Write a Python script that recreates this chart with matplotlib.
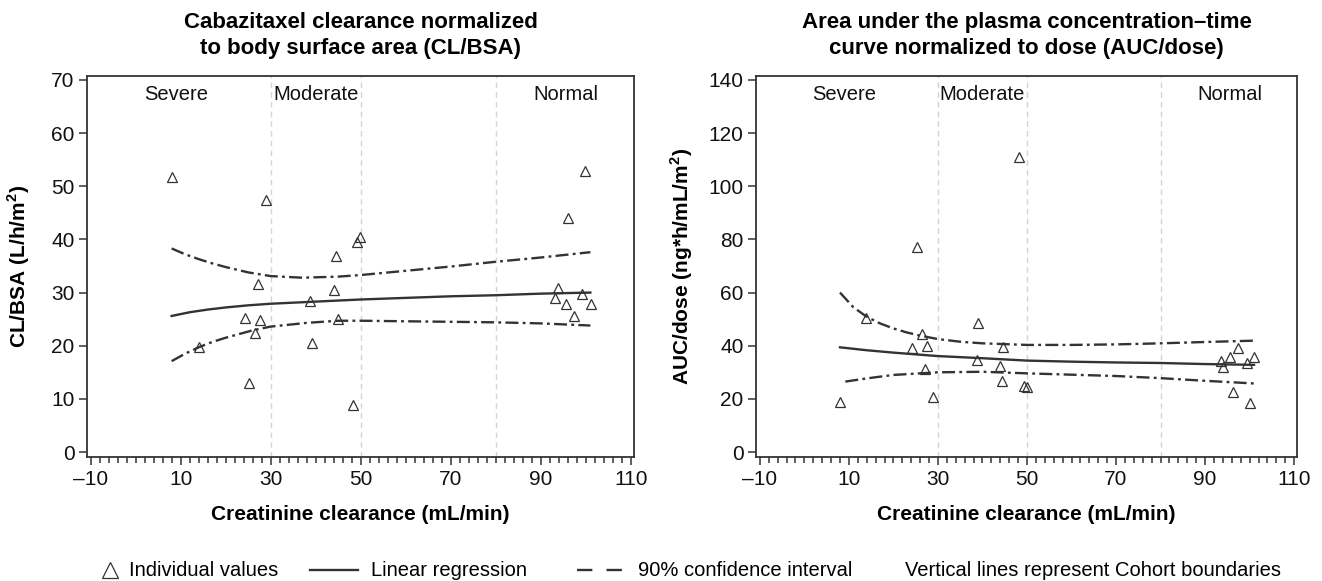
import numpy as np
import matplotlib
matplotlib.use('Agg')
import matplotlib.pyplot as plt
from matplotlib.lines import Line2D
from matplotlib.ticker import FixedLocator

plt.rcParams['font.family'] = ['Liberation Sans', 'DejaVu Sans']

# ---- data ----
# left panel: CL/BSA
cl_x = [8.1, 14.0, 24.4, 25.2, 26.5, 27.2, 27.7, 29.0, 38.8, 39.2, 44.1, 44.4,
        44.9, 48.3, 49.2, 49.8, 93.2, 93.8, 95.6, 96.1, 97.4, 99.2, 99.8, 101.1]
cl_y = [51.8, 19.8, 25.3, 12.9, 22.4, 31.7, 24.8, 47.5, 28.5, 20.6, 30.5, 36.9,
        25.0, 8.8, 39.6, 40.4, 29.0, 30.9, 27.8, 44.0, 25.5, 29.7, 52.9, 27.8]
cl_reg_x = [8, 12, 16, 20, 25, 30, 40, 50, 60, 70, 80, 90, 101]
cl_reg_y = [25.6, 26.3, 26.8, 27.2, 27.6, 27.9, 28.3, 28.7, 29.0, 29.3, 29.5, 29.8, 30.0]
cl_up_x = [8, 11, 14, 17, 20, 25, 30, 37, 45, 50, 60, 70, 80, 90, 101]
cl_up_y = [38.3, 37.2, 36.3, 35.5, 34.8, 33.8, 33.1, 32.8, 33.0, 33.3, 34.1, 34.9, 35.8, 36.6, 37.6]
cl_lo_x = [8, 11, 14, 17, 20, 26, 30, 38, 45, 50, 60, 70, 80, 90, 101]
cl_lo_y = [17.1, 18.5, 19.7, 20.7, 21.5, 22.9, 23.6, 24.3, 24.7, 24.7, 24.6, 24.5, 24.4, 24.2, 23.8]

# right panel: AUC/dose
auc_x = [8.1, 13.9, 24.2, 25.2, 26.4, 27.1, 27.5, 28.9, 38.7, 39.1, 44.0, 44.3,
         44.7, 48.3, 49.3, 50.0, 93.5, 94.1, 95.6, 96.3, 97.3, 99.5, 100.1, 101.0]
auc_y = [18.9, 50.3, 39.1, 77.0, 44.4, 31.4, 40.0, 20.8, 34.7, 48.4, 32.5, 26.8,
         39.5, 110.9, 25.0, 24.6, 34.2, 32.1, 35.6, 22.5, 39.0, 33.4, 18.6, 35.8]
auc_reg_x = [8, 14, 20, 30, 40, 50, 60, 70, 80, 90, 101]
auc_reg_y = [39.4, 38.3, 37.4, 36.1, 35.3, 34.4, 34.0, 33.7, 33.5, 33.1, 32.8]
auc_up_x = [8, 11, 14, 17, 20, 23, 26, 30, 35, 40, 50, 60, 70, 80, 90, 101]
auc_up_y = [60.0, 54.5, 50.9, 48.4, 46.5, 45.0, 43.8, 42.5, 41.5, 40.9, 40.3, 40.3, 40.5, 40.9, 41.4, 41.9]
auc_lo_x = [9.2, 14, 20, 30, 40, 50, 60, 70, 80, 90, 101]
auc_lo_y = [26.5, 27.7, 29.0, 30.0, 30.2, 29.6, 29.1, 28.6, 27.8, 26.8, 25.8]

cohort_bounds = [30, 50, 80]
cohort_names = ['Severe', 'Moderate', 'Normal']
cohort_pos = [9, 40, 95.5]

xticks = [-10, 10, 30, 50, 70, 90, 110]
xtick_labels = ['\u201310', '10', '30', '50', '70', '90', '110']

dark = '#333333'
dashdot = (5.5, 1.8, 1.2, 1.8)

fig = plt.figure(figsize=(13.22, 5.81), dpi=100)
ax1 = fig.add_axes([0.0658, 0.2134, 0.4138, 0.6558])
ax2 = fig.add_axes([0.5719, 0.2134, 0.4092, 0.6558])

panels = [
    (ax1, cl_x, cl_y, cl_reg_x, cl_reg_y, cl_up_x, cl_up_y, cl_lo_x, cl_lo_y,
     (-0.94, 70.75), [0, 10, 20, 30, 40, 50, 60, 70], 69,
     'Cabazitaxel clearance normalized\nto body surface area (CL/BSA)',
     'CL/BSA (L/h/m$^\\mathregular{2}$)', (-10.8, 110.7)),
    (ax2, auc_x, auc_y, auc_reg_x, auc_reg_y, auc_up_x, auc_up_y, auc_lo_x, auc_lo_y,
     (-1.88, 141.5), [0, 20, 40, 60, 80, 100, 120, 140], 138,
     'Area under the plasma concentration\u2013time\ncurve normalized to dose (AUC/dose)',
     'AUC/dose (ng*h/mL/m$^\\mathregular{2}$)', (-10.85, 110.65)),
]

for (ax, px, py, rx, ry, ux, uy, lx, ly, ylim, yticks, ytxt, title, ylab, xlim) in panels:
    for b in cohort_bounds:
        ax.axvline(b, color='#d4d4d4', lw=1, ls=(0, (4, 3)), zorder=1)
    ax.plot(rx, ry, color=dark, lw=1.7, zorder=2)
    ax.plot(ux, uy, color=dark, lw=1.7, dashes=dashdot, zorder=2)
    ax.plot(lx, ly, color=dark, lw=1.7, dashes=dashdot, zorder=2)
    ax.plot(px, py, ls='none', marker='^', ms=7, mfc='none', mec=dark, mew=0.9, zorder=3)
    for name, xpos in zip(cohort_names, cohort_pos):
        ax.text(xpos, ytxt, name, ha='center', va='top', fontsize=14.5, color='#111111')
    ax.set_xlim(*xlim)
    ax.set_ylim(*ylim)
    ax.xaxis.set_major_locator(FixedLocator(xticks))
    ax.set_xticklabels(xtick_labels)
    ax.xaxis.set_minor_locator(FixedLocator(np.arange(-10, 111, 2)))
    ax.set_yticks(yticks)
    ax.tick_params(axis='both', which='major', direction='out', length=6, width=1.1,
                   labelsize=15, color=dark, labelcolor='#111111', pad=3)
    ax.tick_params(axis='x', which='minor', direction='out', length=4, width=1.1, color=dark)
    for s in ax.spines.values():
        s.set_linewidth(1.3)
        s.set_color(dark)
    ax.set_title(title, fontsize=16, fontweight='bold', pad=16, linespacing=1.3)
    ax.set_xlabel('Creatinine clearance (mL/min)', fontsize=15, fontweight='bold', labelpad=12)
    ax.set_ylabel(ylab, fontsize=15, fontweight='bold')

ax1.yaxis.set_label_coords(-0.10, 0.5)
ax2.yaxis.set_label_coords(-0.112, 0.5)

# legend row at the bottom
ly = 1 - 570 / 581.
fig.add_artist(Line2D([110 / 1322.], [ly], transform=fig.transFigure, marker='^', ms=11,
                      mfc='none', mec=dark, mew=0.9, ls='none'))
fig.text(129 / 1322., ly, 'Individual values', fontsize=14.5, va='center', ha='left')
fig.add_artist(Line2D([310 / 1322., 358 / 1322.], [ly, ly], transform=fig.transFigure,
                      color=dark, lw=1.7))
fig.text(371 / 1322., ly, 'Linear regression', fontsize=14.5, va='center', ha='left')
fig.add_artist(Line2D([577 / 1322., 625 / 1322.], [ly, ly], transform=fig.transFigure,
                      color=dark, lw=1.7, dashes=(6.5, 6)))
fig.text(638 / 1322., ly, '90% confidence interval', fontsize=14.5, va='center', ha='left')
fig.text(905 / 1322., ly, 'Vertical lines represent Cohort boundaries', fontsize=14.5,
         va='center', ha='left')

fig.savefig('out.png', dpi=100)
